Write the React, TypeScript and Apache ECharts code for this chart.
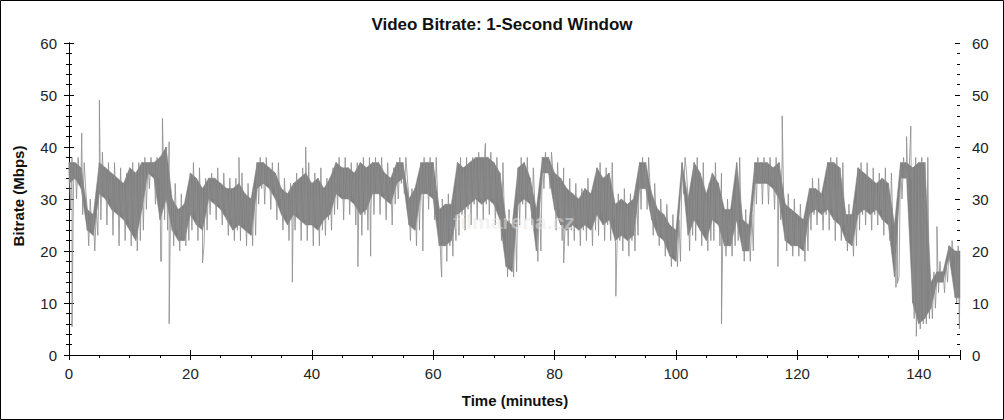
import React, { useEffect, useRef } from "react";
import * as echarts from "echarts";

// Per-minute upper level of the dense 1-second trace (Mbps), minute 0..146
const peakMbps = [
  37, 37, 36, 28, 27, 37, 36, 35, 34, 33,
  36, 35, 37, 37, 37, 38, 40, 30, 28, 29,
  35, 34, 32, 34, 34, 33, 32, 32, 33, 31,
  30, 37, 37, 36, 35, 32, 31, 33, 34, 35,
  33, 34, 32, 34, 37, 36, 36, 35, 37, 36,
  37, 37, 35, 34, 37, 37, 30, 32, 37, 37,
  37, 28, 29, 29, 37, 36, 37, 38, 38, 38,
  37, 35, 26, 25, 36, 37, 34, 28, 38, 38,
  35, 34, 32, 31, 30, 32, 31, 36, 34, 35,
  29, 30, 29, 30, 37, 37, 31, 28, 27, 25,
  24, 37, 30, 37, 35, 31, 35, 33, 28, 28,
  37, 26, 25, 37, 37, 37, 36, 37, 29, 28,
  27, 26, 32, 32, 31, 37, 37, 36, 27, 27,
  36, 35, 34, 33, 34, 33, 25, 37, 37, 36,
  37, 37, 14, 16, 16, 21, 20,
];

// Per-minute lower level of the dense trace (Mbps), minute 0..146
const troughMbps = [
  33, 34, 32, 24, 23, 31, 30, 28, 27, 26,
  24, 22, 28, 35, 34, 26, 30, 24, 22, 22,
  27, 25, 24, 30, 29, 28, 26, 24, 25, 24,
  23, 32, 33, 32, 30, 27, 25, 27, 26, 25,
  25, 24, 26, 27, 31, 30, 30, 29, 27, 28,
  31, 31, 30, 29, 33, 34, 25, 24, 31, 31,
  30, 21, 21, 22, 27, 28, 29, 30, 29, 30,
  29, 26, 17, 16, 29, 30, 29, 20, 35, 35,
  28, 25, 24, 25, 24, 25, 24, 27, 25, 26,
  22, 23, 22, 23, 32, 32, 26, 23, 22, 19,
  18, 35, 23, 26, 24, 22, 26, 25, 21, 21,
  26, 20, 20, 33, 33, 33, 32, 30, 22, 21,
  21, 20, 27, 28, 27, 28, 26, 25, 22, 21,
  27, 28, 27, 28, 26, 25, 15, 34, 34, 10,
  6, 7, 9, 14, 14, 19, 11,
];

// Per-minute highest thin excursion (Mbps)
const topMbps = [
  38, 38, 37, 30, 28, 39, 37, 37, 36, 35,
  37, 37, 38, 38, 38, 40, 41, 33, 31, 31,
  37, 36, 34, 35, 36, 35, 34, 34, 35, 33,
  32, 38, 38, 37, 37, 34, 33, 35, 36, 37,
  35, 36, 34, 36, 38, 38, 37, 37, 38, 38,
  38, 38, 37, 36, 38, 38, 32, 34, 38, 38,
  38, 30, 31, 31, 38, 38, 38, 39, 39, 39,
  38, 37, 28, 27, 38, 38, 36, 30, 39, 39,
  37, 36, 34, 33, 32, 34, 33, 37, 36, 37,
  31, 32, 31, 32, 38, 38, 33, 30, 29, 27,
  26, 38, 32, 38, 37, 33, 37, 35, 30, 30,
  38, 28, 27, 38, 38, 38, 38, 38, 31, 30,
  29, 28, 34, 34, 33, 38, 38, 37, 29, 29,
  37, 37, 36, 35, 36, 35, 28, 38, 38, 38,
  38, 38, 16, 18, 18, 22, 21,
];

// Per-minute lowest thin excursion (Mbps)
const dipMbps = [
  28, 30, 27, 21, 20, 26, 25, 23, 21, 22,
  21, 20, 24, 32, 29, 18, 24, 21, 20, 21,
  24, 22, 21, 27, 26, 25, 23, 22, 22, 21,
  21, 29, 29, 28, 26, 24, 22, 24, 22, 22,
  21, 21, 23, 24, 28, 26, 27, 25, 23, 24,
  27, 27, 26, 25, 30, 31, 22, 21, 27, 28,
  26, 18, 18, 19, 23, 24, 25, 26, 26, 27,
  25, 22, 15, 15, 25, 26, 25, 18, 32, 32,
  24, 22, 21, 22, 21, 22, 21, 23, 22, 22,
  19, 20, 19, 20, 28, 28, 23, 21, 19, 17,
  17, 31, 20, 22, 21, 20, 22, 21, 19, 19,
  22, 18, 18, 29, 29, 29, 28, 26, 20, 19,
  19, 18, 24, 25, 24, 24, 22, 22, 20, 19,
  24, 25, 24, 25, 23, 22, 13, 30, 30, 7,
  5, 6, 7, 12, 12, 17, 10,
];

// Isolated 1-second spikes: minute and Mbps
const spikeMinutes = [0.5, 2.1, 5.0, 15.1, 15.4, 16.5, 22.0, 28.0, 36.8, 39.0, 47.6, 49.7, 58.3, 61.4, 68.6, 81.5, 90.1, 107.5, 116.8, 117.5, 136.5, 138.0, 138.7, 139.6, 143.0, 146.7];
const spikeMbps = [5.4, 42.7, 49, 18, 45.5, 6, 17.7, 38, 14, 40, 17, 19, 20, 15, 40.7, 17.7, 11.3, 6, 17, 46, 13.8, 42, 44, 3.6, 24.7, 5];

const xMax = 146.8;
const xStep = 20;
const yMax = 60;
const yStep = 10;

const FONT = "'Liberation Sans', Arial, sans-serif";

export default function App() {
  const ref = useRef<HTMLDivElement>(null);

  useEffect(() => {
    if (!ref.current) return;
    const chart = echarts.init(ref.current, null, { renderer: "svg" });

    const n = peakMbps.length;
    const bandData = peakMbps.map((v, i) => [
      i,
      troughMbps[i],
      v,
      Math.min(i + 1, xMax),
      i + 1 < n ? troughMbps[i + 1] : troughMbps[i],
      i + 1 < n ? peakMbps[i + 1] : v,
    ]);

    const trace: [number, number][] = [];
    peakMbps.forEach((v, i) => {
      trace.push([i, v]);
      trace.push([i + 0.25, dipMbps[i]]);
      trace.push([i + 0.5, topMbps[i]]);
      trace.push([i + 0.75, troughMbps[i]]);
    });
    spikeMinutes.forEach((t, k) => trace.push([t, spikeMbps[k]]));
    trace.sort((a, b) => a[0] - b[0]);

    const black = { color: "#000", width: 1 };
    const label = { fontSize: 15, color: "#222", fontFamily: FONT };

    const baseX = {
      type: "value" as const,
      min: 0,
      max: xMax,
      interval: xStep,
      splitLine: { show: false },
      minorSplitLine: { show: false },
    };
    const baseY = {
      type: "value" as const,
      min: 0,
      max: yMax,
      interval: yStep,
      splitLine: { show: false },
      minorSplitLine: { show: false },
    };

    chart.setOption({
      animation: false,
      backgroundColor: "#fff",
      title: {
        text: "Video Bitrate: 1-Second Window",
        left: "center",
        top: 11,
        textStyle: { fontSize: 17, fontWeight: "bold", color: "#111", fontFamily: FONT },
      },
      grid: { left: 69, right: 44, top: 43, bottom: 65 },
      xAxis: [
        {
          ...baseX,
          position: "bottom",
          axisLine: { show: true, lineStyle: black },
          axisTick: { show: true, inside: false, length: 5, lineStyle: black },
          minorTick: { show: true, splitNumber: 4, length: 3, lineStyle: black },
          axisLabel: { ...label, margin: 11, showMaxLabel: false },
        },
        {
          ...baseX,
          position: "bottom",
          axisLine: { show: false },
          axisTick: { show: true, inside: true, length: 5, lineStyle: black },
          minorTick: { show: false },
          axisLabel: { show: false },
        },
        {
          ...baseX,
          position: "top",
          axisLine: { show: true, lineStyle: black },
          axisTick: { show: true, inside: true, length: 4, lineStyle: black },
          minorTick: { show: true, splitNumber: 4, length: 2, lineStyle: black },
          axisLabel: { show: false },
        },
      ],
      yAxis: [
        {
          ...baseY,
          position: "left",
          axisLine: { show: true, lineStyle: black },
          axisTick: { show: true, inside: false, length: 5, lineStyle: black },
          minorTick: { show: true, splitNumber: 5, length: 3, lineStyle: black },
          axisLabel: { ...label, margin: 12 },
        },
        {
          ...baseY,
          position: "left",
          axisLine: { show: false },
          axisTick: { show: true, inside: true, length: 5, lineStyle: black },
          minorTick: { show: true, splitNumber: 5, length: 3, lineStyle: black },
          axisLabel: { show: false },
        },
        {
          ...baseY,
          position: "right",
          axisLine: { show: true, lineStyle: black },
          axisTick: { show: true, inside: false, length: 5, lineStyle: black },
          minorTick: { show: true, splitNumber: 5, length: 3, lineStyle: black },
          axisLabel: { ...label, margin: 12 },
        },
        {
          ...baseY,
          position: "right",
          axisLine: { show: false },
          axisTick: { show: true, inside: true, length: 5, lineStyle: black },
          minorTick: { show: true, splitNumber: 5, length: 3, lineStyle: black },
          axisLabel: { show: false },
        },
      ],
      graphic: [
        {
          type: "rect",
          shape: { x: 0.5, y: 0.5, width: 1003, height: 419 },
          style: { fill: "none", stroke: "#000", lineWidth: 1 },
          silent: true,
          z: 100,
        },
        {
          type: "text",
          x: 18,
          y: 196,
          rotation: Math.PI / 2,
          style: {
            text: "Bitrate (Mbps)",
            fontSize: 15,
            fontWeight: "bold",
            fontFamily: FONT,
            fill: "#111",
            textAlign: "center",
            textVerticalAlign: "middle",
          },
        },
        {
          type: "text",
          x: 515,
          y: 400,
          style: {
            text: "Time (minutes)",
            fontSize: 15,
            fontWeight: "bold",
            fontFamily: FONT,
            fill: "#111",
            textAlign: "center",
            textVerticalAlign: "middle",
          },
        },
        {
          type: "text",
          x: 514,
          y: 221,
          z: 100,
          style: {
            text: "filmarena.cz",
            fontSize: 21,
            fontWeight: "bold",
            fontFamily: FONT,
            fill: "rgba(230,230,230,0.5)",
            textAlign: "center",
            textVerticalAlign: "middle",
          },
          silent: true,
        },
      ],
      series: [
        {
          type: "custom",
          name: "band",
          xAxisIndex: 0,
          yAxisIndex: 0,
          data: bandData,
          silent: true,
          renderItem: (params: any, api: any) => {
            const x0 = api.value(0);
            const lo0 = api.value(1);
            const hi0 = api.value(2);
            const x1 = api.value(3);
            const lo1 = api.value(4);
            const hi1 = api.value(5);
            const pts = [
              api.coord([x0, lo0]),
              api.coord([x0, hi0]),
              api.coord([x1, hi1]),
              api.coord([x1, lo1]),
            ];
            return {
              type: "polygon",
              shape: { points: pts },
              style: { fill: "#808080", stroke: "#808080", lineWidth: 0.5 },
            };
          },
        },
        {
          type: "line",
          name: "bitrate",
          xAxisIndex: 0,
          yAxisIndex: 0,
          data: trace,
          symbol: "none",
          lineStyle: { color: "#8c8c8c", width: 0.8 },
          silent: true,
          z: 3,
        },
      ],
    });

    return () => chart.dispose();
  }, []);

  return (
    <div
      ref={ref}
      style={{ position: "fixed", left: 0, top: 0, width: 1004, height: 420 }}
    />
  );
}
